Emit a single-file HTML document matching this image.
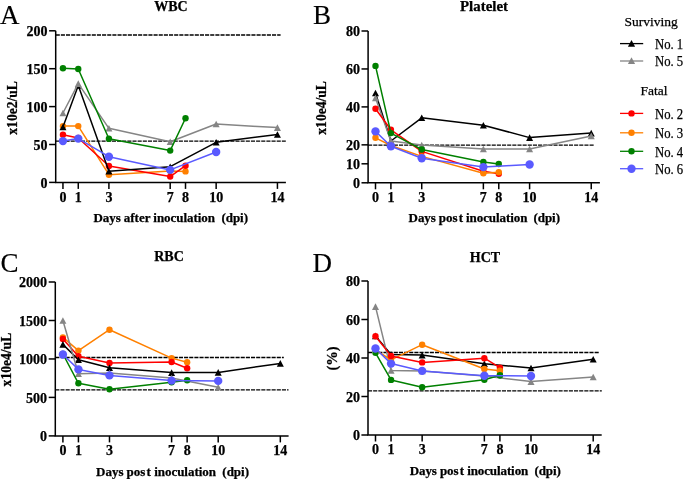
<!DOCTYPE html>
<html><head><meta charset="utf-8"><style>
html,body{margin:0;padding:0;background:#fff;}
svg{display:block;filter:blur(0.3px);}
text{font-family:"Liberation Serif",serif;fill:#000;white-space:pre;stroke:#000;stroke-width:0.25px;}
.tk{font-size:14px;font-weight:bold;}
.ti{font-size:14px;font-weight:bold;}
.xl{font-size:13px;font-weight:bold;}
.yl{font-size:13.6px;font-weight:bold;}
.lg{font-size:13.5px;}
.let{font-size:27px;stroke-width:0.15px;}
</style></head><body>
<svg width="685" height="479" viewBox="0 0 685 479">
<rect width="685" height="479" fill="#fff"/>
<line x1="55.70" y1="35.00" x2="280.60" y2="35.00" stroke="#000" stroke-width="1.3" stroke-dasharray="4.1 1.05" stroke-dashoffset="0"/>
<line x1="55.70" y1="141.10" x2="285.80" y2="141.10" stroke="#000" stroke-width="1.3" stroke-dasharray="4.1 1.05" stroke-dashoffset="0.475"/>
<path d="M55.70 30.80V182.40H285.90" fill="none" stroke="#000" stroke-width="1.5"/>
<line x1="49.10" y1="182.40" x2="55.70" y2="182.40" stroke="#000" stroke-width="1.5"/>
<text x="47.60" y="187.60" class="tk" text-anchor="end">0</text>
<line x1="49.10" y1="144.50" x2="55.70" y2="144.50" stroke="#000" stroke-width="1.5"/>
<text x="47.60" y="149.70" class="tk" text-anchor="end">50</text>
<line x1="49.10" y1="106.60" x2="55.70" y2="106.60" stroke="#000" stroke-width="1.5"/>
<text x="47.60" y="111.80" class="tk" text-anchor="end">100</text>
<line x1="49.10" y1="68.70" x2="55.70" y2="68.70" stroke="#000" stroke-width="1.5"/>
<text x="47.60" y="73.90" class="tk" text-anchor="end">150</text>
<line x1="49.10" y1="30.80" x2="55.70" y2="30.80" stroke="#000" stroke-width="1.5"/>
<text x="47.60" y="36.00" class="tk" text-anchor="end">200</text>
<line x1="62.95" y1="182.40" x2="62.95" y2="188.90" stroke="#000" stroke-width="1.5"/>
<text x="62.95" y="201.80" class="tk" text-anchor="middle">0</text>
<line x1="78.27" y1="182.40" x2="78.27" y2="188.90" stroke="#000" stroke-width="1.5"/>
<text x="78.27" y="201.80" class="tk" text-anchor="middle">1</text>
<line x1="108.91" y1="182.40" x2="108.91" y2="188.90" stroke="#000" stroke-width="1.5"/>
<text x="108.91" y="201.80" class="tk" text-anchor="middle">3</text>
<line x1="170.19" y1="182.40" x2="170.19" y2="188.90" stroke="#000" stroke-width="1.5"/>
<text x="170.19" y="201.80" class="tk" text-anchor="middle">7</text>
<line x1="185.51" y1="182.40" x2="185.51" y2="188.90" stroke="#000" stroke-width="1.5"/>
<text x="185.51" y="201.80" class="tk" text-anchor="middle">8</text>
<line x1="216.15" y1="182.40" x2="216.15" y2="188.90" stroke="#000" stroke-width="1.5"/>
<text x="216.15" y="201.80" class="tk" text-anchor="middle">10</text>
<line x1="277.43" y1="182.40" x2="277.43" y2="188.90" stroke="#000" stroke-width="1.5"/>
<text x="277.43" y="201.80" class="tk" text-anchor="middle">14</text>
<path d="M62.95 126.10L78.27 126.10L108.91 174.70L170.19 171.00L185.51 171.40" fill="none" stroke="#ff8000" stroke-width="1.5" stroke-linejoin="round"/>
<circle cx="62.95" cy="126.10" r="3.2" fill="#ff8000"/>
<circle cx="78.27" cy="126.10" r="3.2" fill="#ff8000"/>
<circle cx="108.91" cy="174.70" r="3.2" fill="#ff8000"/>
<circle cx="170.19" cy="171.00" r="3.2" fill="#ff8000"/>
<circle cx="185.51" cy="171.40" r="3.2" fill="#ff8000"/>
<path d="M62.95 134.80L78.27 138.00L108.91 166.00L170.19 176.60L185.51 165.70" fill="none" stroke="#ff0000" stroke-width="1.5" stroke-linejoin="round"/>
<circle cx="62.95" cy="134.80" r="3.2" fill="#ff0000"/>
<circle cx="78.27" cy="138.00" r="3.2" fill="#ff0000"/>
<circle cx="108.91" cy="166.00" r="3.2" fill="#ff0000"/>
<circle cx="170.19" cy="176.60" r="3.2" fill="#ff0000"/>
<circle cx="185.51" cy="165.70" r="3.2" fill="#ff0000"/>
<path d="M62.95 127.00L78.27 85.50L108.91 171.30L170.19 166.70L216.15 142.30L277.43 134.50" fill="none" stroke="#000000" stroke-width="1.5" stroke-linejoin="round"/>
<path d="M62.95 123.70L66.45 130.30L59.45 130.30Z" fill="#000000"/>
<path d="M78.27 82.20L81.77 88.80L74.77 88.80Z" fill="#000000"/>
<path d="M108.91 168.00L112.41 174.60L105.41 174.60Z" fill="#000000"/>
<path d="M170.19 163.40L173.69 170.00L166.69 170.00Z" fill="#000000"/>
<path d="M216.15 139.00L219.65 145.60L212.65 145.60Z" fill="#000000"/>
<path d="M277.43 131.20L280.93 137.80L273.93 137.80Z" fill="#000000"/>
<path d="M62.95 113.00L78.27 83.60L108.91 128.30L170.19 141.80L216.15 124.00L277.43 127.60" fill="none" stroke="#858585" stroke-width="1.5" stroke-linejoin="round"/>
<path d="M62.95 109.70L66.45 116.30L59.45 116.30Z" fill="#858585"/>
<path d="M78.27 80.30L81.77 86.90L74.77 86.90Z" fill="#858585"/>
<path d="M108.91 125.00L112.41 131.60L105.41 131.60Z" fill="#858585"/>
<path d="M170.19 138.50L173.69 145.10L166.69 145.10Z" fill="#858585"/>
<path d="M216.15 120.70L219.65 127.30L212.65 127.30Z" fill="#858585"/>
<path d="M277.43 124.30L280.93 130.90L273.93 130.90Z" fill="#858585"/>
<path d="M62.95 68.30L78.27 69.00L108.91 138.70L170.19 150.60L185.51 118.20" fill="none" stroke="#008000" stroke-width="1.5" stroke-linejoin="round"/>
<circle cx="62.95" cy="68.30" r="3.2" fill="#008000"/>
<circle cx="78.27" cy="69.00" r="3.2" fill="#008000"/>
<circle cx="108.91" cy="138.70" r="3.2" fill="#008000"/>
<circle cx="170.19" cy="150.60" r="3.2" fill="#008000"/>
<circle cx="185.51" cy="118.20" r="3.2" fill="#008000"/>
<path d="M62.95 141.10L78.27 138.60L108.91 156.70L170.19 169.90L216.15 152.00" fill="none" stroke="#5a5aff" stroke-width="1.5" stroke-linejoin="round"/>
<circle cx="62.95" cy="141.10" r="4.2" fill="#5a5aff"/>
<circle cx="78.27" cy="138.60" r="4.2" fill="#5a5aff"/>
<circle cx="108.91" cy="156.70" r="4.2" fill="#5a5aff"/>
<circle cx="170.19" cy="169.90" r="4.2" fill="#5a5aff"/>
<circle cx="216.15" cy="152.00" r="4.2" fill="#5a5aff"/>
<line x1="368.10" y1="145.20" x2="594.70" y2="145.20" stroke="#000" stroke-width="1.3" stroke-dasharray="4.1 1.05" stroke-dashoffset="0"/>
<path d="M368.10 31.00V182.80H599.90" fill="none" stroke="#000" stroke-width="1.5"/>
<line x1="361.50" y1="182.80" x2="368.10" y2="182.80" stroke="#000" stroke-width="1.5"/>
<text x="360.00" y="188.00" class="tk" text-anchor="end">0</text>
<line x1="361.50" y1="163.80" x2="368.10" y2="163.80" stroke="#000" stroke-width="1.5"/>
<text x="360.00" y="169.00" class="tk" text-anchor="end">10</text>
<line x1="361.50" y1="144.85" x2="368.10" y2="144.85" stroke="#000" stroke-width="1.5"/>
<text x="360.00" y="150.05" class="tk" text-anchor="end">20</text>
<line x1="361.50" y1="106.90" x2="368.10" y2="106.90" stroke="#000" stroke-width="1.5"/>
<text x="360.00" y="112.10" class="tk" text-anchor="end">40</text>
<line x1="361.50" y1="68.95" x2="368.10" y2="68.95" stroke="#000" stroke-width="1.5"/>
<text x="360.00" y="74.15" class="tk" text-anchor="end">60</text>
<line x1="361.50" y1="31.00" x2="368.10" y2="31.00" stroke="#000" stroke-width="1.5"/>
<text x="360.00" y="36.20" class="tk" text-anchor="end">80</text>
<line x1="375.50" y1="182.80" x2="375.50" y2="189.30" stroke="#000" stroke-width="1.5"/>
<text x="375.50" y="202.20" class="tk" text-anchor="middle">0</text>
<line x1="390.91" y1="182.80" x2="390.91" y2="189.30" stroke="#000" stroke-width="1.5"/>
<text x="390.91" y="202.20" class="tk" text-anchor="middle">1</text>
<line x1="421.73" y1="182.80" x2="421.73" y2="189.30" stroke="#000" stroke-width="1.5"/>
<text x="421.73" y="202.20" class="tk" text-anchor="middle">3</text>
<line x1="483.37" y1="182.80" x2="483.37" y2="189.30" stroke="#000" stroke-width="1.5"/>
<text x="483.37" y="202.20" class="tk" text-anchor="middle">7</text>
<line x1="498.78" y1="182.80" x2="498.78" y2="189.30" stroke="#000" stroke-width="1.5"/>
<text x="498.78" y="202.20" class="tk" text-anchor="middle">8</text>
<line x1="529.60" y1="182.80" x2="529.60" y2="189.30" stroke="#000" stroke-width="1.5"/>
<text x="529.60" y="202.20" class="tk" text-anchor="middle">10</text>
<line x1="591.24" y1="182.80" x2="591.24" y2="189.30" stroke="#000" stroke-width="1.5"/>
<text x="591.24" y="202.20" class="tk" text-anchor="middle">14</text>
<path d="M375.50 93.00L390.91 141.00L421.73 117.80L483.37 125.20L529.60 137.60L591.24 133.10" fill="none" stroke="#000000" stroke-width="1.5" stroke-linejoin="round"/>
<path d="M375.50 89.70L379.00 96.30L372.00 96.30Z" fill="#000000"/>
<path d="M390.91 137.70L394.41 144.30L387.41 144.30Z" fill="#000000"/>
<path d="M421.73 114.50L425.23 121.10L418.23 121.10Z" fill="#000000"/>
<path d="M483.37 121.90L486.87 128.50L479.87 128.50Z" fill="#000000"/>
<path d="M529.60 134.30L533.10 140.90L526.10 140.90Z" fill="#000000"/>
<path d="M591.24 129.80L594.74 136.40L587.74 136.40Z" fill="#000000"/>
<path d="M375.50 97.90L390.91 141.00L421.73 145.10L483.37 149.00L529.60 149.00L591.24 135.90" fill="none" stroke="#858585" stroke-width="1.5" stroke-linejoin="round"/>
<path d="M375.50 94.60L379.00 101.20L372.00 101.20Z" fill="#858585"/>
<path d="M390.91 137.70L394.41 144.30L387.41 144.30Z" fill="#858585"/>
<path d="M421.73 141.80L425.23 148.40L418.23 148.40Z" fill="#858585"/>
<path d="M483.37 145.70L486.87 152.30L479.87 152.30Z" fill="#858585"/>
<path d="M529.60 145.70L533.10 152.30L526.10 152.30Z" fill="#858585"/>
<path d="M591.24 132.60L594.74 139.20L587.74 139.20Z" fill="#858585"/>
<path d="M375.50 108.70L390.91 129.80L421.73 151.40L483.37 171.20L498.78 173.70" fill="none" stroke="#ff0000" stroke-width="1.5" stroke-linejoin="round"/>
<circle cx="375.50" cy="108.70" r="3.2" fill="#ff0000"/>
<circle cx="390.91" cy="129.80" r="3.2" fill="#ff0000"/>
<circle cx="421.73" cy="151.40" r="3.2" fill="#ff0000"/>
<circle cx="483.37" cy="171.20" r="3.2" fill="#ff0000"/>
<circle cx="498.78" cy="173.70" r="3.2" fill="#ff0000"/>
<path d="M375.50 137.80L390.91 145.50L421.73 156.40L483.37 173.20L498.78 172.20" fill="none" stroke="#ff8000" stroke-width="1.5" stroke-linejoin="round"/>
<circle cx="375.50" cy="137.80" r="3.2" fill="#ff8000"/>
<circle cx="390.91" cy="145.50" r="3.2" fill="#ff8000"/>
<circle cx="421.73" cy="156.40" r="3.2" fill="#ff8000"/>
<circle cx="483.37" cy="173.20" r="3.2" fill="#ff8000"/>
<circle cx="498.78" cy="172.20" r="3.2" fill="#ff8000"/>
<path d="M375.50 65.90L390.91 133.10L421.73 149.50L483.37 162.00L498.78 164.00" fill="none" stroke="#008000" stroke-width="1.5" stroke-linejoin="round"/>
<circle cx="375.50" cy="65.90" r="3.2" fill="#008000"/>
<circle cx="390.91" cy="133.10" r="3.2" fill="#008000"/>
<circle cx="421.73" cy="149.50" r="3.2" fill="#008000"/>
<circle cx="483.37" cy="162.00" r="3.2" fill="#008000"/>
<circle cx="498.78" cy="164.00" r="3.2" fill="#008000"/>
<path d="M375.50 131.40L390.91 146.20L421.73 158.20L483.37 167.10L529.60 164.50" fill="none" stroke="#5a5aff" stroke-width="1.5" stroke-linejoin="round"/>
<circle cx="375.50" cy="131.40" r="4.2" fill="#5a5aff"/>
<circle cx="390.91" cy="146.20" r="4.2" fill="#5a5aff"/>
<circle cx="421.73" cy="158.20" r="4.2" fill="#5a5aff"/>
<circle cx="483.37" cy="167.10" r="4.2" fill="#5a5aff"/>
<circle cx="529.60" cy="164.50" r="4.2" fill="#5a5aff"/>
<line x1="55.30" y1="357.50" x2="283.80" y2="357.50" stroke="#000" stroke-width="1.3" stroke-dasharray="4.1 1.05" stroke-dashoffset="0"/>
<line x1="55.30" y1="389.90" x2="288.50" y2="389.90" stroke="#000" stroke-width="1.3" stroke-dasharray="4.1 1.05" stroke-dashoffset="0"/>
<path d="M55.30 282.00V435.90H288.60" fill="none" stroke="#000" stroke-width="1.5"/>
<line x1="48.70" y1="435.90" x2="55.30" y2="435.90" stroke="#000" stroke-width="1.5"/>
<text x="47.00" y="441.10" class="tk" text-anchor="end">0</text>
<line x1="48.70" y1="397.40" x2="55.30" y2="397.40" stroke="#000" stroke-width="1.5"/>
<text x="47.00" y="402.60" class="tk" text-anchor="end">500</text>
<line x1="48.70" y1="358.95" x2="55.30" y2="358.95" stroke="#000" stroke-width="1.5"/>
<text x="47.00" y="364.15" class="tk" text-anchor="end">1000</text>
<line x1="48.70" y1="320.50" x2="55.30" y2="320.50" stroke="#000" stroke-width="1.5"/>
<text x="47.00" y="325.70" class="tk" text-anchor="end">1500</text>
<line x1="48.70" y1="282.00" x2="55.30" y2="282.00" stroke="#000" stroke-width="1.5"/>
<text x="47.00" y="287.20" class="tk" text-anchor="end">2000</text>
<line x1="62.90" y1="435.90" x2="62.90" y2="442.40" stroke="#000" stroke-width="1.5"/>
<text x="62.90" y="455.30" class="tk" text-anchor="middle">0</text>
<line x1="78.43" y1="435.90" x2="78.43" y2="442.40" stroke="#000" stroke-width="1.5"/>
<text x="78.43" y="455.30" class="tk" text-anchor="middle">1</text>
<line x1="109.49" y1="435.90" x2="109.49" y2="442.40" stroke="#000" stroke-width="1.5"/>
<text x="109.49" y="455.30" class="tk" text-anchor="middle">3</text>
<line x1="171.61" y1="435.90" x2="171.61" y2="442.40" stroke="#000" stroke-width="1.5"/>
<text x="171.61" y="455.30" class="tk" text-anchor="middle">7</text>
<line x1="187.14" y1="435.90" x2="187.14" y2="442.40" stroke="#000" stroke-width="1.5"/>
<text x="187.14" y="455.30" class="tk" text-anchor="middle">8</text>
<line x1="218.20" y1="435.90" x2="218.20" y2="442.40" stroke="#000" stroke-width="1.5"/>
<text x="218.20" y="455.30" class="tk" text-anchor="middle">10</text>
<line x1="280.32" y1="435.90" x2="280.32" y2="442.40" stroke="#000" stroke-width="1.5"/>
<text x="280.32" y="455.30" class="tk" text-anchor="middle">14</text>
<path d="M62.90 337.40L78.43 350.60L109.49 329.70L171.61 358.10L187.14 362.30" fill="none" stroke="#ff8000" stroke-width="1.5" stroke-linejoin="round"/>
<circle cx="62.90" cy="337.40" r="3.2" fill="#ff8000"/>
<circle cx="78.43" cy="350.60" r="3.2" fill="#ff8000"/>
<circle cx="109.49" cy="329.70" r="3.2" fill="#ff8000"/>
<circle cx="171.61" cy="358.10" r="3.2" fill="#ff8000"/>
<circle cx="187.14" cy="362.30" r="3.2" fill="#ff8000"/>
<path d="M62.90 339.00L78.43 356.20L109.49 363.00L171.61 362.00L187.14 368.30" fill="none" stroke="#ff0000" stroke-width="1.5" stroke-linejoin="round"/>
<circle cx="62.90" cy="339.00" r="3.2" fill="#ff0000"/>
<circle cx="78.43" cy="356.20" r="3.2" fill="#ff0000"/>
<circle cx="109.49" cy="363.00" r="3.2" fill="#ff0000"/>
<circle cx="171.61" cy="362.00" r="3.2" fill="#ff0000"/>
<circle cx="187.14" cy="368.30" r="3.2" fill="#ff0000"/>
<path d="M62.90 344.40L78.43 359.80L109.49 367.80L171.61 372.60L218.20 372.40L280.32 363.40" fill="none" stroke="#000000" stroke-width="1.5" stroke-linejoin="round"/>
<path d="M62.90 341.10L66.40 347.70L59.40 347.70Z" fill="#000000"/>
<path d="M78.43 356.50L81.93 363.10L74.93 363.10Z" fill="#000000"/>
<path d="M109.49 364.50L112.99 371.10L105.99 371.10Z" fill="#000000"/>
<path d="M171.61 369.30L175.11 375.90L168.11 375.90Z" fill="#000000"/>
<path d="M218.20 369.10L221.70 375.70L214.70 375.70Z" fill="#000000"/>
<path d="M280.32 360.10L283.82 366.70L276.82 366.70Z" fill="#000000"/>
<path d="M62.90 320.50L78.43 373.80L109.49 373.00L171.61 378.00L218.20 387.20" fill="none" stroke="#858585" stroke-width="1.5" stroke-linejoin="round"/>
<path d="M62.90 317.20L66.40 323.80L59.40 323.80Z" fill="#858585"/>
<path d="M78.43 370.50L81.93 377.10L74.93 377.10Z" fill="#858585"/>
<path d="M109.49 369.70L112.99 376.30L105.99 376.30Z" fill="#858585"/>
<path d="M171.61 374.70L175.11 381.30L168.11 381.30Z" fill="#858585"/>
<path d="M218.20 383.90L221.70 390.50L214.70 390.50Z" fill="#858585"/>
<path d="M62.90 354.00L78.43 383.30L109.49 389.20L171.61 382.20L187.14 380.30" fill="none" stroke="#008000" stroke-width="1.5" stroke-linejoin="round"/>
<circle cx="62.90" cy="354.00" r="3.2" fill="#008000"/>
<circle cx="78.43" cy="383.30" r="3.2" fill="#008000"/>
<circle cx="109.49" cy="389.20" r="3.2" fill="#008000"/>
<circle cx="171.61" cy="382.20" r="3.2" fill="#008000"/>
<circle cx="187.14" cy="380.30" r="3.2" fill="#008000"/>
<path d="M62.90 354.50L78.43 369.40L109.49 375.40L171.61 380.60L218.20 380.90" fill="none" stroke="#5a5aff" stroke-width="1.5" stroke-linejoin="round"/>
<circle cx="62.90" cy="354.50" r="4.2" fill="#5a5aff"/>
<circle cx="78.43" cy="369.40" r="4.2" fill="#5a5aff"/>
<circle cx="109.49" cy="375.40" r="4.2" fill="#5a5aff"/>
<circle cx="171.61" cy="380.60" r="4.2" fill="#5a5aff"/>
<circle cx="218.20" cy="380.90" r="4.2" fill="#5a5aff"/>
<line x1="368.00" y1="352.50" x2="599.70" y2="352.50" stroke="#000" stroke-width="1.3" stroke-dasharray="4.1 1.05" stroke-dashoffset="0"/>
<line x1="368.00" y1="390.90" x2="601.80" y2="390.90" stroke="#000" stroke-width="1.3" stroke-dasharray="4.1 1.05" stroke-dashoffset="0"/>
<path d="M368.00 281.00V435.00H601.70" fill="none" stroke="#000" stroke-width="1.5"/>
<line x1="361.40" y1="435.00" x2="368.00" y2="435.00" stroke="#000" stroke-width="1.5"/>
<text x="360.00" y="440.20" class="tk" text-anchor="end">0</text>
<line x1="361.40" y1="396.50" x2="368.00" y2="396.50" stroke="#000" stroke-width="1.5"/>
<text x="360.00" y="401.70" class="tk" text-anchor="end">20</text>
<line x1="361.40" y1="358.00" x2="368.00" y2="358.00" stroke="#000" stroke-width="1.5"/>
<text x="360.00" y="363.20" class="tk" text-anchor="end">40</text>
<line x1="361.40" y1="319.50" x2="368.00" y2="319.50" stroke="#000" stroke-width="1.5"/>
<text x="360.00" y="324.70" class="tk" text-anchor="end">60</text>
<line x1="361.40" y1="281.00" x2="368.00" y2="281.00" stroke="#000" stroke-width="1.5"/>
<text x="360.00" y="286.20" class="tk" text-anchor="end">80</text>
<line x1="375.50" y1="435.00" x2="375.50" y2="441.50" stroke="#000" stroke-width="1.5"/>
<text x="375.50" y="454.40" class="tk" text-anchor="middle">0</text>
<line x1="391.05" y1="435.00" x2="391.05" y2="441.50" stroke="#000" stroke-width="1.5"/>
<text x="391.05" y="454.40" class="tk" text-anchor="middle">1</text>
<line x1="422.15" y1="435.00" x2="422.15" y2="441.50" stroke="#000" stroke-width="1.5"/>
<text x="422.15" y="454.40" class="tk" text-anchor="middle">3</text>
<line x1="484.35" y1="435.00" x2="484.35" y2="441.50" stroke="#000" stroke-width="1.5"/>
<text x="484.35" y="454.40" class="tk" text-anchor="middle">7</text>
<line x1="499.90" y1="435.00" x2="499.90" y2="441.50" stroke="#000" stroke-width="1.5"/>
<text x="499.90" y="454.40" class="tk" text-anchor="middle">8</text>
<line x1="531.00" y1="435.00" x2="531.00" y2="441.50" stroke="#000" stroke-width="1.5"/>
<text x="531.00" y="454.40" class="tk" text-anchor="middle">10</text>
<line x1="593.20" y1="435.00" x2="593.20" y2="441.50" stroke="#000" stroke-width="1.5"/>
<text x="593.20" y="454.40" class="tk" text-anchor="middle">14</text>
<path d="M375.50 335.90L391.05 354.50L422.15 355.10L484.35 363.80L531.00 368.00L593.20 359.30" fill="none" stroke="#000000" stroke-width="1.5" stroke-linejoin="round"/>
<path d="M375.50 332.60L379.00 339.20L372.00 339.20Z" fill="#000000"/>
<path d="M391.05 351.20L394.55 357.80L387.55 357.80Z" fill="#000000"/>
<path d="M422.15 351.80L425.65 358.40L418.65 358.40Z" fill="#000000"/>
<path d="M484.35 360.50L487.85 367.10L480.85 367.10Z" fill="#000000"/>
<path d="M531.00 364.70L534.50 371.30L527.50 371.30Z" fill="#000000"/>
<path d="M593.20 356.00L596.70 362.60L589.70 362.60Z" fill="#000000"/>
<path d="M375.50 306.60L391.05 370.40L422.15 370.90L484.35 376.00L531.00 381.60L593.20 377.00" fill="none" stroke="#858585" stroke-width="1.5" stroke-linejoin="round"/>
<path d="M375.50 303.30L379.00 309.90L372.00 309.90Z" fill="#858585"/>
<path d="M391.05 367.10L394.55 373.70L387.55 373.70Z" fill="#858585"/>
<path d="M422.15 367.60L425.65 374.20L418.65 374.20Z" fill="#858585"/>
<path d="M484.35 372.70L487.85 379.30L480.85 379.30Z" fill="#858585"/>
<path d="M531.00 378.30L534.50 384.90L527.50 384.90Z" fill="#858585"/>
<path d="M593.20 373.70L596.70 380.30L589.70 380.30Z" fill="#858585"/>
<path d="M375.50 350.00L391.05 359.80L422.15 344.70L484.35 369.00L499.90 370.80" fill="none" stroke="#ff8000" stroke-width="1.5" stroke-linejoin="round"/>
<circle cx="375.50" cy="350.00" r="3.2" fill="#ff8000"/>
<circle cx="391.05" cy="359.80" r="3.2" fill="#ff8000"/>
<circle cx="422.15" cy="344.70" r="3.2" fill="#ff8000"/>
<circle cx="484.35" cy="369.00" r="3.2" fill="#ff8000"/>
<circle cx="499.90" cy="370.80" r="3.2" fill="#ff8000"/>
<path d="M375.50 336.30L391.05 355.90L422.15 362.40L484.35 358.20L499.90 367.60" fill="none" stroke="#ff0000" stroke-width="1.5" stroke-linejoin="round"/>
<circle cx="375.50" cy="336.30" r="3.2" fill="#ff0000"/>
<circle cx="391.05" cy="355.90" r="3.2" fill="#ff0000"/>
<circle cx="422.15" cy="362.40" r="3.2" fill="#ff0000"/>
<circle cx="484.35" cy="358.20" r="3.2" fill="#ff0000"/>
<circle cx="499.90" cy="367.60" r="3.2" fill="#ff0000"/>
<path d="M375.50 352.80L391.05 379.90L422.15 387.20L484.35 379.80L499.90 375.20" fill="none" stroke="#008000" stroke-width="1.5" stroke-linejoin="round"/>
<circle cx="375.50" cy="352.80" r="3.2" fill="#008000"/>
<circle cx="391.05" cy="379.90" r="3.2" fill="#008000"/>
<circle cx="422.15" cy="387.20" r="3.2" fill="#008000"/>
<circle cx="484.35" cy="379.80" r="3.2" fill="#008000"/>
<circle cx="499.90" cy="375.20" r="3.2" fill="#008000"/>
<circle cx="499.90" cy="370.80" r="3.2" fill="#ff8000"/>
<circle cx="499.90" cy="375.20" r="3.2" fill="#008000"/>
<path d="M375.50 348.50L391.05 363.60L422.15 370.90L484.35 375.70L531.00 376.00" fill="none" stroke="#5a5aff" stroke-width="1.5" stroke-linejoin="round"/>
<circle cx="375.50" cy="348.50" r="4.2" fill="#5a5aff"/>
<circle cx="391.05" cy="363.60" r="4.2" fill="#5a5aff"/>
<circle cx="422.15" cy="370.90" r="4.2" fill="#5a5aff"/>
<circle cx="484.35" cy="375.70" r="4.2" fill="#5a5aff"/>
<circle cx="531.00" cy="376.00" r="4.2" fill="#5a5aff"/>
<text x="0" y="24" class="let">A</text>
<text x="313" y="24" class="let">B</text>
<text x="0.5" y="271.8" class="let">C</text>
<text x="312.5" y="272" class="let">D</text>
<text x="170.9" y="11" class="ti" text-anchor="middle">WBC</text>
<text x="460" y="10.7" class="ti" textLength="48" lengthAdjust="spacingAndGlyphs">Platelet</text>
<text x="169" y="261" class="ti" text-anchor="middle">RBC</text>
<text x="485" y="262" class="ti" text-anchor="middle">HCT</text>
<text x="93.4" y="221.9" class="xl" textLength="154.6" lengthAdjust="spacing">Days after inoculation  (dpi)</text>
<text x="408.6" y="222.1" class="xl" textLength="151.4" lengthAdjust="spacing">Days pos<tspan dx="1.3">t</tspan> inoculation  (dpi)</text>
<text x="96.1" y="475.7" class="xl" textLength="152.9" lengthAdjust="spacing">Days pos<tspan dx="1.3">t</tspan> inoculation  (dpi)</text>
<text x="409.8" y="475.2" class="xl" textLength="151.0" lengthAdjust="spacing">Days pos<tspan dx="1.3">t</tspan> inoculation  (dpi)</text>
<text transform="translate(17.4 107.9) rotate(-90)" class="yl" text-anchor="middle">x10e2/uL</text>
<text transform="translate(325.5 107.9) rotate(-90)" class="yl" text-anchor="middle">x10e4/uL</text>
<text transform="translate(10.5 359.6) rotate(-90)" class="yl" text-anchor="middle">x10e4/uL</text>
<text transform="translate(337.0 358.5) rotate(-90)" class="yl" style="font-size:14.5px" text-anchor="middle">(%)</text>
<text x="624.5" y="26.3" class="lg">Surviving</text>
<text x="640.5" y="95.3" class="lg">Fatal</text>
<line x1="620" y1="43.6" x2="643.2" y2="43.6" stroke="#000000" stroke-width="1.3"/>
<path d="M631.50 39.90L635.10 46.70L627.90 46.70Z" fill="#000000"/>
<text x="655.0" y="48.8" class="lg" style="font-size:13.9px" textLength="28.2" lengthAdjust="spacingAndGlyphs">No. 1</text>
<line x1="620" y1="61.0" x2="643.2" y2="61.0" stroke="#858585" stroke-width="1.3"/>
<path d="M631.50 57.30L635.10 64.10L627.90 64.10Z" fill="#858585"/>
<text x="655.0" y="66.2" class="lg" style="font-size:13.9px" textLength="28.2" lengthAdjust="spacingAndGlyphs">No. 5</text>
<line x1="620" y1="113.4" x2="643.2" y2="113.4" stroke="#ff0000" stroke-width="1.3"/>
<circle cx="631.50" cy="113.40" r="3.2" fill="#ff0000"/>
<text x="655.0" y="118.6" class="lg" style="font-size:13.9px" textLength="28.2" lengthAdjust="spacingAndGlyphs">No. 2</text>
<line x1="620" y1="132.8" x2="643.2" y2="132.8" stroke="#ff8000" stroke-width="1.3"/>
<circle cx="631.50" cy="132.80" r="3.2" fill="#ff8000"/>
<text x="655.0" y="138.0" class="lg" style="font-size:13.9px" textLength="28.2" lengthAdjust="spacingAndGlyphs">No. 3</text>
<line x1="620" y1="151.3" x2="643.2" y2="151.3" stroke="#008000" stroke-width="1.3"/>
<circle cx="631.50" cy="151.30" r="3.2" fill="#008000"/>
<text x="655.0" y="156.5" class="lg" style="font-size:13.9px" textLength="28.2" lengthAdjust="spacingAndGlyphs">No. 4</text>
<line x1="620" y1="168.7" x2="643.2" y2="168.7" stroke="#5a5aff" stroke-width="1.3"/>
<circle cx="631.50" cy="168.70" r="4.2" fill="#5a5aff"/>
<text x="655.0" y="173.9" class="lg" style="font-size:13.9px" textLength="28.2" lengthAdjust="spacingAndGlyphs">No. 6</text>
</svg>
</body></html>
